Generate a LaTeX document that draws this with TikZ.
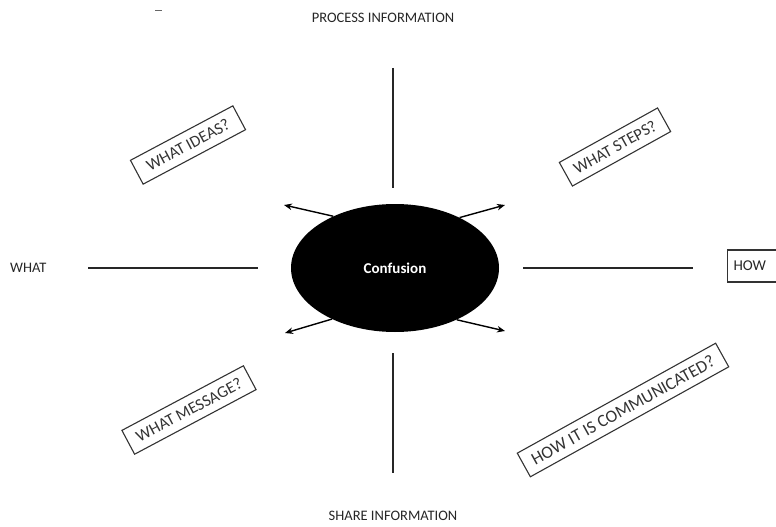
\documentclass[tikz,border=0pt]{standalone}
\usepackage{fontspec}
\setmainfont{Carlito}
\usetikzlibrary{arrows.meta,shapes.geometric}
\begin{document}
\begin{tikzpicture}[x=1pt,y=-1pt,
  lbl/.style={font=\fontsize{14.5}{16}\selectfont, text=black!85, inner sep=0pt},
  qbox/.style={draw=black!80, line width=1.1pt, font=\fontsize{16.5}{18}\selectfont,
    text=black!80, inner xsep=10pt, minimum height=27pt, transform shape},
  spoke/.style={line width=2.2pt, black!85},
  arr/.style={line width=1.4pt, -{Stealth[length=8pt,width=6.5pt]}}]
\useasboundingbox (0,0) rectangle (776,527);
% centre
\node[ellipse, fill=black, minimum width=208pt, minimum height=128pt,
  text=white, font=\fontsize{15}{17}\selectfont\bfseries] (conf) at (395,268) {Confusion};
% labels
\node[lbl] (proc) at (383,18) {PROCESS INFORMATION};
\node[lbl] (share) at (393,516) {SHARE INFORMATION};
\node[lbl, anchor=west] (what) at (10,268) {WHAT};
\node[draw=black!80, line width=1.1pt, anchor=west, font=\fontsize{15}{17}\selectfont,
  text=black!85, minimum height=32pt, inner xsep=6pt, text width=44pt, align=left] (how) at (727,266) {HOW};
% tiny mark
\coordinate (m1) at (155,11); \coordinate (m2) at (162,11);
\draw[black!60, line width=1pt] (m1) -- (m2);
% spokes
\coordinate (t1) at (393,68);  \coordinate (t2) at (393,188);
\coordinate (b1) at (393,353); \coordinate (b2) at (393,473);
\coordinate (l1) at (88,268);  \coordinate (l2) at (258,268);
\coordinate (r1) at (523,268); \coordinate (r2) at (693,268);
\draw[spoke] (t1) -- (t2);
\draw[spoke] (b1) -- (b2);
\draw[spoke] (l1) -- (l2);
\draw[spoke] (r1) -- (r2);
% arrows
\coordinate (aul) at (284,205); \coordinate (aur) at (505,205);
\coordinate (all) at (285,333); \coordinate (alr) at (505,331);
\draw[arr] (conf.140) -- (aul);
\draw[arr] (conf.38) -- (aur);
\draw[arr] (conf.219) -- (all);
\draw[arr] (conf.-40) -- (alr);
% question boxes
\node[qbox, rotate=28, inner xsep=12pt] (ideas) at (188,145) {WHAT IDEAS?};
\node[qbox, rotate=29] (steps) at (615,147) {WHAT STEPS?};
\node[qbox, rotate=28] (msg) at (189,410) {WHAT MESSAGE?};
\node[qbox, rotate=29, font=\fontsize{17.5}{19}\selectfont] (comm) at (623,410) {HOW IT IS COMMUNICATED?};
\end{tikzpicture}
\end{document}
